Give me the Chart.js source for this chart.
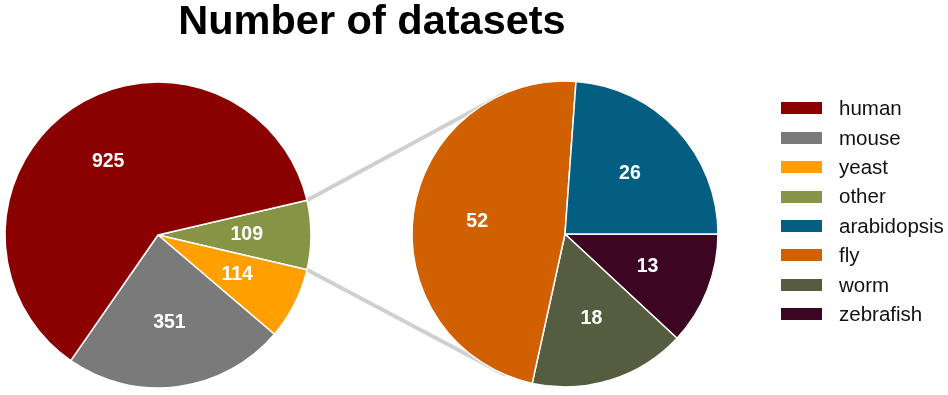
<!DOCTYPE html>
<html>
<head>
<meta charset="utf-8">
<script src="https://cdn.jsdelivr.net/npm/chart.js@4.4.0/dist/chart.umd.min.js"></script>
<style>
  body { margin: 0; background: #fff; font-family: "Liberation Sans", Arial, sans-serif; }
  #wrap { position: relative; width: 948px; height: 395px; overflow: hidden; }
  #links { position: absolute; left: 0; top: 0; }
  #mainPie { position: absolute; left: 0; top: 77px; }
  #otherPie { position: absolute; left: 407px; top: 76px; }
  #title { position: absolute; left: 0; top: -1.5px; width: 744px; text-align: center;
           font-weight: bold; font-size: 41.5px; line-height: 41.5px; color: #000; }
  .swatch { position: absolute; left: 781px; width: 41px; height: 12px; }
  .lbl { position: absolute; left: 839px; font-size: 20.5px; line-height: 20px; color: #111; white-space: nowrap; }
</style>
</head>
<body>
<div id="wrap">
  <canvas id="links" width="948" height="395"></canvas>
  <canvas id="mainPie" width="316" height="316"></canvas>
  <canvas id="otherPie" width="316" height="316"></canvas>
  <div id="title">Number of datasets</div>
  <div id="legend"></div>
</div>
<script>
// left pie
const mainLabels = ['human', 'mouse', 'yeast', 'other'];
const mainValues = [925, 351, 114, 109];
const mainColors = ['#8b0000', '#7a7a7a', '#ffa000', '#879446'];

// breakdown of "other"
const otherLabels = ['arabidopsis', 'fly', 'worm', 'zebrafish'];
const otherValues = [26, 52, 18, 13];
const otherColors = ['#035e82', '#d06000', '#565c3f', '#3c0522'];

// numbers inside the slices
const valueLabels = {
  id: 'valueLabels',
  afterDatasetsDraw(chart) {
    const ctx = chart.ctx;
    const meta = chart.getDatasetMeta(0);
    const vals = chart.data.datasets[0].data;
    ctx.save();
    ctx.font = 'bold 19.5px "Liberation Sans", Arial, sans-serif';
    ctx.fillStyle = '#fff';
    ctx.textAlign = 'center';
    ctx.textBaseline = 'middle';
    meta.data.forEach((arc, i) => {
      const mid = (arc.startAngle + arc.endAngle) / 2;
      const r = arc.outerRadius * 0.58;
      ctx.fillText(vals[i], arc.x + Math.cos(mid) * r, arc.y + Math.sin(mid) * r);
    });
    ctx.restore();
  }
};

// matplotlib draws counter-clockwise, chart.js clockwise -> reverse
function makePie(id, labels, values, colors, rotation) {
  return new Chart(document.getElementById(id), {
    type: 'pie',
    data: {
      labels: labels.slice().reverse(),
      datasets: [{
        data: values.slice().reverse(),
        backgroundColor: colors.slice().reverse(),
        borderColor: '#fff',
        borderWidth: 1.5,
        hoverOffset: 0
      }]
    },
    options: {
      responsive: false,
      animation: false,
      events: [],
      radius: 153,
      rotation: rotation,
      plugins: {
        legend: { display: false },
        tooltip: { enabled: false }
      }
    },
    plugins: [valueLabels]
  });
}

const mainTotal = mainValues.reduce((a, b) => a + b, 0);
const otherShare = mainValues[3] / mainTotal * 360;
const mainChart = makePie('mainPie', mainLabels, mainValues, mainColors, 90 - otherShare / 2);
const otherChart = makePie('otherPie', otherLabels, otherValues, otherColors, 90);

// connector lines from the "other" wedge to the second pie
const lctx = document.getElementById('links').getContext('2d');
const src = mainChart.getDatasetMeta(0).data[0];
const dst = otherChart.getDatasetMeta(0).data[0];
const mainOff = { x: 0, y: 77 }, otherOff = { x: 407, y: 76 };
const linkAngle = 113 * Math.PI / 180;
lctx.strokeStyle = '#d0d0d0';
lctx.lineWidth = 4;
[[src.startAngle, -linkAngle], [src.endAngle, linkAngle]].forEach(([a1, a2]) => {
  lctx.beginPath();
  lctx.moveTo(mainOff.x + src.x + Math.cos(a1) * src.outerRadius, mainOff.y + src.y + Math.sin(a1) * src.outerRadius);
  lctx.lineTo(otherOff.x + dst.x + Math.cos(a2) * dst.outerRadius, otherOff.y + dst.y + Math.sin(a2) * dst.outerRadius);
  lctx.stroke();
});

// legend for both pies
const legend = document.getElementById('legend');
mainLabels.concat(otherLabels).forEach((name, i) => {
  const color = (mainColors.concat(otherColors))[i];
  const top = 102.3 + i * 29.4;
  const sw = document.createElement('div');
  sw.className = 'swatch';
  sw.style.top = top + 'px';
  sw.style.background = color;
  legend.appendChild(sw);
  const tx = document.createElement('div');
  tx.className = 'lbl';
  tx.style.top = (top - 4.2) + 'px';
  tx.textContent = name;
  legend.appendChild(tx);
});
</script>
</body>
</html>
